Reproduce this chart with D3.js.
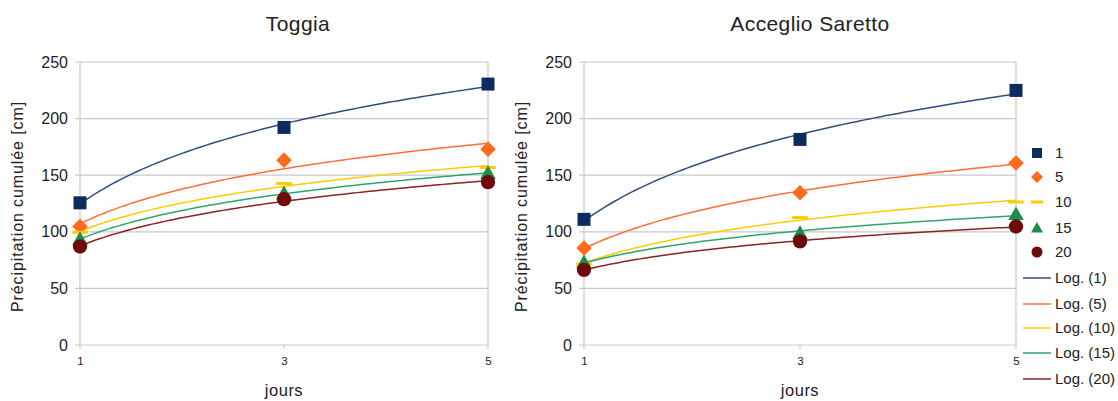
<!DOCTYPE html>
<html><head><meta charset="utf-8">
<script src="https://cdn.jsdelivr.net/npm/d3@7"></script>
<style>
body{margin:0;background:#fff;}
text{font-family:"Liberation Sans",Arial,sans-serif;fill:#222;}
</style></head>
<body><svg id="c" width="1118" height="401"></svg>
<script>
const days = [1, 3, 5];
const seriesNames = ["1", "5", "10", "15", "20"];
const toggia = [
  [125.6, 192.2, 230.5],
  [104.7, 163.3, 173.0],
  [99.6, 142.7, 156.8],
  [93.5, 134.0, 151.8],
  [87.0, 128.8, 143.9]
];
const acceglio = [
  [111.0, 181.6, 224.9],
  [85.7, 134.5, 160.8],
  [71.6, 112.6, 126.3],
  [73.0, 98.8, 115.5],
  [66.4, 91.5, 104.7]
];
const yTicks = [0, 50, 100, 150, 200, 250];
const xTicks = [1, 3, 5];
const markerColors = ["#0b2c5c", "#ff6a1c", "#ffcc00", "#1f8c4e", "#6e0a0a"];
const lineColors = ["#2f4d7e", "#ff6d3a", "#ffcc00", "#2fa56a", "#8a2424"];
const markerShapes = ["square", "diamond", "dash", "triangle", "circle"];
const titles = ["Toggia", "Acceglio Saretto"];
const yLabel = "Précipitation cumulée [cm]";
const xLabel = "jours";

const svg = d3.select("#c");

function logFit(xs, ys) {
  const lx = xs.map(Math.log);
  const mx = d3.mean(lx), my = d3.mean(ys);
  let sxy = 0, sxx = 0;
  lx.forEach((v, i) => { sxy += (v - mx) * (ys[i] - my); sxx += (v - mx) * (v - mx); });
  const b = sxy / sxx, a = my - b * mx;
  return x => a + b * Math.log(x);
}

function drawMarker(g, shape, cx, cy, color, s) {
  if (shape === "square") {
    g.append("rect").attr("x", cx - s/2).attr("y", cy - s/2).attr("width", s).attr("height", s).attr("fill", color);
  } else if (shape === "diamond") {
    const r = s * 0.6;
    g.append("path").attr("d", `M${cx},${cy-r}L${cx+r},${cy}L${cx},${cy+r}L${cx-r},${cy}Z`).attr("fill", color);
  } else if (shape === "dash") {
    g.append("rect").attr("x", cx - s*0.6).attr("y", cy - 1.5).attr("width", s*1.2).attr("height", 3).attr("fill", color);
  } else if (shape === "triangle") {
    const r = s * 0.6;
    g.append("path").attr("d", `M${cx},${cy-r}L${cx+r},${cy+r*0.75}L${cx-r},${cy+r*0.75}Z`).attr("fill", color);
  } else {
    g.append("path").attr("d", d3.symbol().type(d3.symbolCircle).size(s*s*0.95)()).attr("transform", `translate(${cx},${cy})`).attr("fill", color);
  }
}

function drawChart(data, title, x0, x1, titleX) {
  const y0 = 345, y1 = 62;
  const x = d3.scaleLinear().domain([1, 5]).range([x0, x1]);
  const y = d3.scaleLinear().domain([0, 250]).range([y0, y1]);
  const g = svg.append("g");

  // grid
  g.selectAll(".gy").data(yTicks).enter().append("line")
    .attr("x1", x0 - 5).attr("x2", x1).attr("y1", d => y(d)).attr("y2", d => y(d))
    .attr("stroke", "#c8c8c8").attr("stroke-width", 1.2);
  g.append("line").attr("x1", x0).attr("x2", x0).attr("y1", y1).attr("y2", y0 + 4).attr("stroke", "#c8c8c8").attr("stroke-width", 1.2);
  g.append("line").attr("x1", x1).attr("x2", x1).attr("y1", y1).attr("y2", y0 + 4).attr("stroke", "#c8c8c8").attr("stroke-width", 1.2);
  g.append("line").attr("x1", x(3)).attr("x2", x(3)).attr("y1", y0).attr("y2", y0 + 4).attr("stroke", "#c8c8c8").attr("stroke-width", 1.2);

  // axis labels
  const ya = d3.axisLeft(y).tickValues(yTicks).tickSize(0).tickPadding(12);
  const yg = g.append("g").attr("transform", `translate(${x0},0)`).call(ya);
  yg.select(".domain").remove();
  yg.selectAll("text").attr("font-size", 16).attr("fill", "#222").attr("font-family", "Liberation Sans, Arial, sans-serif");
  const xa = d3.axisBottom(x).tickValues(xTicks).tickSize(0).tickPadding(12).tickFormat(d3.format("d"));
  const xg = g.append("g").attr("transform", `translate(0,${y0})`).call(xa);
  xg.select(".domain").remove();
  xg.selectAll("text").attr("font-size", 11.5).attr("fill", "#222").attr("font-family", "Liberation Sans, Arial, sans-serif");

  // trend lines
  const samples = d3.range(0, 101).map(i => 1 + 4 * i / 100);
  data.forEach((vals, si) => {
    const f = logFit(days, vals);
    g.append("path").datum(samples)
      .attr("d", d3.line().x(d => x(d)).y(d => y(f(d))))
      .attr("fill", "none").attr("stroke", lineColors[si]).attr("stroke-width", 1.5);
  });
  // markers
  data.forEach((vals, si) => {
    vals.forEach((v, i) => drawMarker(g, markerShapes[si], x(days[i]), y(v), markerColors[si], 13));
  });

  svg.append("text").attr("x", titleX).attr("y", 31).attr("text-anchor", "middle").attr("font-size", 21).attr("letter-spacing", 0.4).text(title);
  svg.append("text").attr("transform", `translate(${x0 - 57},${(y0 + y1) / 2 + 3}) rotate(-90)`).attr("text-anchor", "middle").attr("font-size", 16).attr("letter-spacing", 0.9).text(yLabel);
  svg.append("text").attr("x", (x0 + x1) / 2).attr("y", 396).attr("text-anchor", "middle").attr("font-size", 16.5).attr("letter-spacing", 0.5).text(xLabel);
}

drawChart(toggia, titles[0], 80, 488, 298);
drawChart(acceglio, titles[1], 584, 1016, 810);

// legend
const lg = svg.append("g");
const legendY = [153, 177, 202, 228, 252];
seriesNames.forEach((n, i) => {
  drawMarker(lg, markerShapes[i], 1037, legendY[i], markerColors[i], 10);
  lg.append("text").attr("x", 1055).attr("y", legendY[i] + 5).attr("font-size", 15).text(n);
});
const logY = [278, 304, 328, 353, 379];
seriesNames.forEach((n, i) => {
  lg.append("line").attr("x1", 1023).attr("x2", 1051).attr("y1", logY[i]).attr("y2", logY[i]).attr("stroke", lineColors[i]).attr("stroke-width", 1.5);
  lg.append("text").attr("x", 1055).attr("y", logY[i] + 5).attr("font-size", 15).text(`Log. (${n})`);
});
</script></body></html>
